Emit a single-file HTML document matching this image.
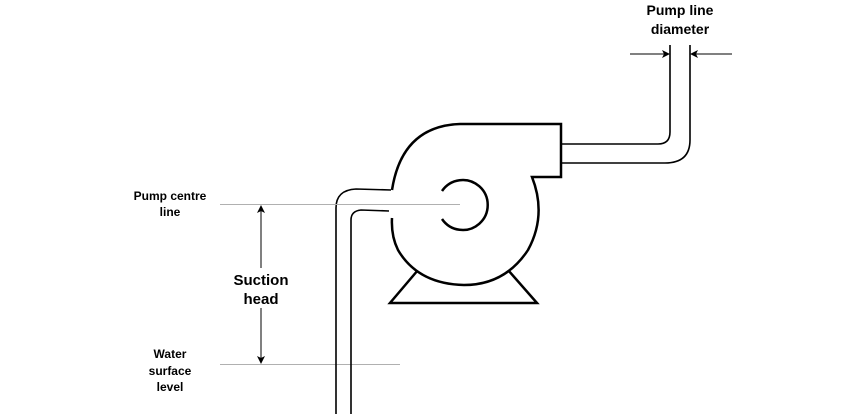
<!DOCTYPE html>
<html><head><meta charset="utf-8"><style>
html,body{margin:0;padding:0;background:#fff;}
svg{display:block;}
text{font-family:"Liberation Sans",Arial,sans-serif;font-weight:bold;fill:#000;}
</style></head><body>
<svg width="841" height="416" viewBox="0 0 841 416">
<defs>
<marker id="ah" markerWidth="8" markerHeight="8" refX="7" refY="4" orient="auto" markerUnits="userSpaceOnUse"><path d="M0,0 L8,4 L0,8 L2,4 Z" fill="#000"/></marker>
</defs>
<line x1="220" y1="364.5" x2="400" y2="364.5" stroke="#b0b0b0" stroke-width="1"/>
<line x1="261" y1="270" x2="261" y2="206" stroke="#000" stroke-width="1" marker-end="url(#ah)"/>
<line x1="261" y1="305" x2="261" y2="363" stroke="#000" stroke-width="1" marker-end="url(#ah)"/>
<path d="M391,190 L356,189 Q336,190 336,208 L336,414" fill="none" stroke="#000" stroke-width="1.6"/>
<path d="M389,211 L361,210 Q351,211 351,220 L351,414" fill="none" stroke="#000" stroke-width="1.6"/>
<path d="M418,270 L390,303 L537,303 L508,270" fill="none" stroke="#000" stroke-width="2.5"/>
<path d="M392,190 Q402,126 460,124 L561,124 L561,177 L532,177 Q547,215 528,250 Q505,285 464,285 Q418,284 398,250 Q391,236 392,218" fill="#fff" stroke="#000" stroke-width="2.5"/>
<path d="M442,191 A25,25 0 1 1 442,219" fill="none" stroke="#000" stroke-width="2.5"/>
<line x1="220" y1="204.5" x2="460" y2="204.5" stroke="#b0b0b0" stroke-width="1"/>
<path d="M562,144 L658,144 Q670,144 670,132 L670,45" fill="none" stroke="#000" stroke-width="1.6"/>
<path d="M562,163 L665,163 Q690,163 690,140 L690,45" fill="none" stroke="#000" stroke-width="1.6"/>
<line x1="630" y1="54" x2="669" y2="54" stroke="#000" stroke-width="1" marker-end="url(#ah)"/>
<line x1="732" y1="54" x2="691" y2="54" stroke="#000" stroke-width="1" marker-end="url(#ah)"/>
<text x="680" y="15" font-size="14" text-anchor="middle">Pump line</text>
<text x="680" y="34" font-size="14" text-anchor="middle">diameter</text>
<text x="170" y="200" font-size="12" text-anchor="middle">Pump centre</text>
<text x="170" y="216" font-size="12" text-anchor="middle">line</text>
<rect x="236" y="268" width="50" height="40" fill="#fff"/>
<text x="261" y="285" font-size="15" text-anchor="middle">Suction</text>
<text x="261" y="304" font-size="15" text-anchor="middle">head</text>
<text x="170" y="358" font-size="12" text-anchor="middle">Water</text>
<text x="170" y="375" font-size="12" text-anchor="middle">surface</text>
<text x="170" y="391" font-size="12" text-anchor="middle">level</text>
</svg>
</body></html>
